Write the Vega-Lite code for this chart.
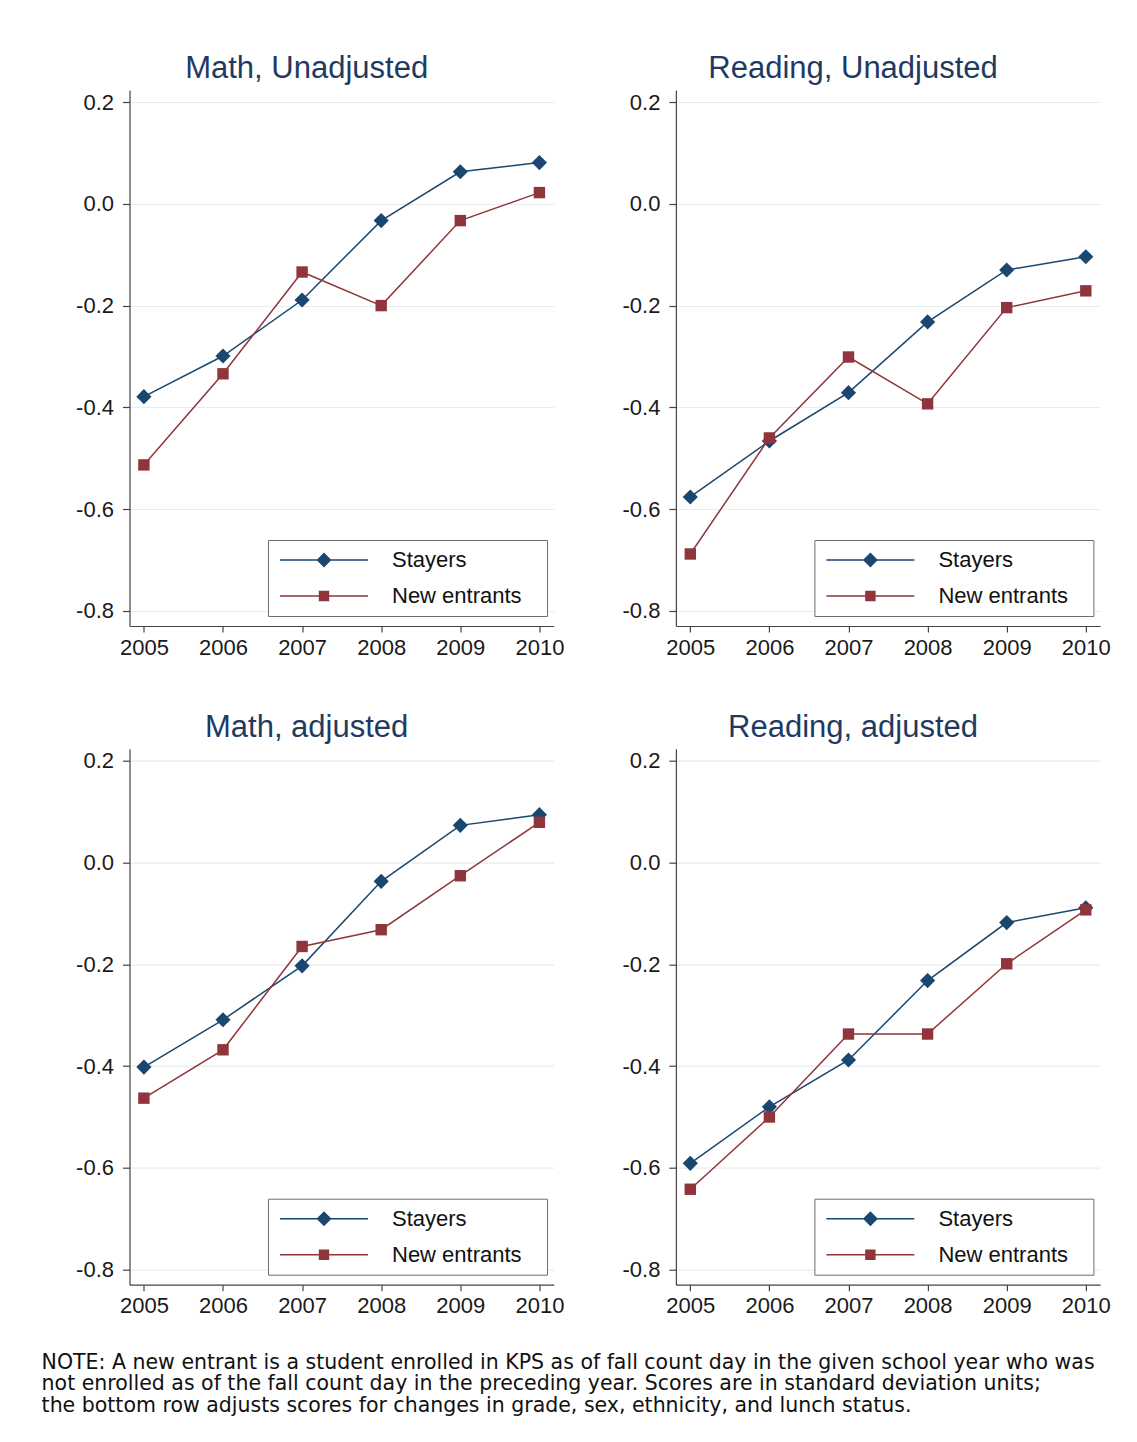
{
  "$schema": "https://vega.github.io/schema/vega-lite/v6.json",
  "autosize": {"type": "none"},
  "padding": {"left": 129.5, "top": 90, "right": 1007.5, "bottom": 1352},
  "background": "white",
  "datasets": {
    "scores": [
      {"panel": "Math, Unadjusted", "series": "Stayers", "year": 2005, "value": -0.379},
      {"panel": "Math, Unadjusted", "series": "Stayers", "year": 2006, "value": -0.299},
      {"panel": "Math, Unadjusted", "series": "Stayers", "year": 2007, "value": -0.189},
      {"panel": "Math, Unadjusted", "series": "Stayers", "year": 2008, "value": -0.033},
      {"panel": "Math, Unadjusted", "series": "Stayers", "year": 2009, "value": 0.063},
      {"panel": "Math, Unadjusted", "series": "Stayers", "year": 2010, "value": 0.081},
      {"panel": "Math, Unadjusted", "series": "New entrants", "year": 2005, "value": -0.513},
      {"panel": "Math, Unadjusted", "series": "New entrants", "year": 2006, "value": -0.334},
      {"panel": "Math, Unadjusted", "series": "New entrants", "year": 2007, "value": -0.134},
      {"panel": "Math, Unadjusted", "series": "New entrants", "year": 2008, "value": -0.200},
      {"panel": "Math, Unadjusted", "series": "New entrants", "year": 2009, "value": -0.033},
      {"panel": "Math, Unadjusted", "series": "New entrants", "year": 2010, "value": 0.022},
      {"panel": "Reading, Unadjusted", "series": "Stayers", "year": 2005, "value": -0.576},
      {"panel": "Reading, Unadjusted", "series": "Stayers", "year": 2006, "value": -0.466},
      {"panel": "Reading, Unadjusted", "series": "Stayers", "year": 2007, "value": -0.371},
      {"panel": "Reading, Unadjusted", "series": "Stayers", "year": 2008, "value": -0.232},
      {"panel": "Reading, Unadjusted", "series": "Stayers", "year": 2009, "value": -0.130},
      {"panel": "Reading, Unadjusted", "series": "Stayers", "year": 2010, "value": -0.104},
      {"panel": "Reading, Unadjusted", "series": "New entrants", "year": 2005, "value": -0.688},
      {"panel": "Reading, Unadjusted", "series": "New entrants", "year": 2006, "value": -0.460},
      {"panel": "Reading, Unadjusted", "series": "New entrants", "year": 2007, "value": -0.301},
      {"panel": "Reading, Unadjusted", "series": "New entrants", "year": 2008, "value": -0.393},
      {"panel": "Reading, Unadjusted", "series": "New entrants", "year": 2009, "value": -0.204},
      {"panel": "Reading, Unadjusted", "series": "New entrants", "year": 2010, "value": -0.171},
      {"panel": "Math, adjusted", "series": "Stayers", "year": 2005, "value": -0.402},
      {"panel": "Math, adjusted", "series": "Stayers", "year": 2006, "value": -0.309},
      {"panel": "Math, adjusted", "series": "Stayers", "year": 2007, "value": -0.203},
      {"panel": "Math, adjusted", "series": "Stayers", "year": 2008, "value": -0.037},
      {"panel": "Math, adjusted", "series": "Stayers", "year": 2009, "value": 0.073},
      {"panel": "Math, adjusted", "series": "Stayers", "year": 2010, "value": 0.094},
      {"panel": "Math, adjusted", "series": "New entrants", "year": 2005, "value": -0.463},
      {"panel": "Math, adjusted", "series": "New entrants", "year": 2006, "value": -0.368},
      {"panel": "Math, adjusted", "series": "New entrants", "year": 2007, "value": -0.165},
      {"panel": "Math, adjusted", "series": "New entrants", "year": 2008, "value": -0.132},
      {"panel": "Math, adjusted", "series": "New entrants", "year": 2009, "value": -0.026},
      {"panel": "Math, adjusted", "series": "New entrants", "year": 2010, "value": 0.079},
      {"panel": "Reading, adjusted", "series": "Stayers", "year": 2005, "value": -0.591},
      {"panel": "Reading, adjusted", "series": "Stayers", "year": 2006, "value": -0.480},
      {"panel": "Reading, adjusted", "series": "Stayers", "year": 2007, "value": -0.388},
      {"panel": "Reading, adjusted", "series": "Stayers", "year": 2008, "value": -0.232},
      {"panel": "Reading, adjusted", "series": "Stayers", "year": 2009, "value": -0.118},
      {"panel": "Reading, adjusted", "series": "Stayers", "year": 2010, "value": -0.089},
      {"panel": "Reading, adjusted", "series": "New entrants", "year": 2005, "value": -0.642},
      {"panel": "Reading, adjusted", "series": "New entrants", "year": 2006, "value": -0.500},
      {"panel": "Reading, adjusted", "series": "New entrants", "year": 2007, "value": -0.337},
      {"panel": "Reading, adjusted", "series": "New entrants", "year": 2008, "value": -0.337},
      {"panel": "Reading, adjusted", "series": "New entrants", "year": 2009, "value": -0.199},
      {"panel": "Reading, adjusted", "series": "New entrants", "year": 2010, "value": -0.093}
    ]
  },
  "title": {
    "text": [
      "NOTE: A new entrant is a student enrolled in KPS as of fall count day in the given school year who was",
      "not enrolled as of the fall count day in the preceding year. Scores are in standard deviation units;",
      "the bottom row adjusts scores for changes in grade, sex, ethnicity, and lunch status."
    ],
    "orient": "bottom",
    "anchor": "start",
    "frame": "bounds",
    "font": "DejaVu Sans",
    "fontSize": 20.5,
    "fontWeight": "normal",
    "color": "#111111",
    "lineHeight": 21.5,
    "offset": 36,
    "dx": -34
  },
  "columns": 2,
  "bounds": "flush",
  "spacing": {"row": 122.7, "column": 121.4},
  "concat": [
    {
      "width": 424.3, "height": 536,
      "title": {"text": "Math, Unadjusted"},
      "data": {"name": "scores"},
      "transform": [{"filter": "datum.panel === 'Math, Unadjusted'"}],
      "layer": [
        {
          "mark": {"type": "line", "strokeWidth": 1.5},
          "encoding": {
            "x": {"field": "year", "type": "quantitative", "scale": {"domain": [2004.818, 2010.182], "nice": false, "zero": false}, "axis": {"values": [2005, 2006, 2007, 2008, 2009, 2010]}},
            "y": {"field": "value", "type": "quantitative", "scale": {"domain": [-0.8295, 0.2236], "nice": false, "zero": false}, "axis": {"values": [-0.8, -0.6, -0.4, -0.2, 0, 0.2]}},
            "color": {"field": "series", "type": "nominal", "scale": {"domain": ["Stayers", "New entrants"], "range": ["#1a476f", "#90353b"]},
              "legend": {"title": null, "orient": "none", "legendX": 138.5, "legendY": 450, "direction": "vertical",
                "strokeColor": "#6e6e6e", "fillColor": "white", "padding": 9, "cornerRadius": 0,
                "labelFont": "Liberation Sans", "labelFontSize": 22, "labelColor": "#111111", "labelLimit": 0,
                "symbolSize": 400, "symbolOffset": 36, "labelOffset": 57, "rowPadding": 14, "symbolStrokeWidth": 1.4,
                "labelExpr": "datum.label + '\u2800'",
                "encode": {"symbols": {"update": {
                  "shape": {"signal": "datum.value === 'Stayers' ? 'M-4.4,0L-0.65,0L0,-0.65L0.65,0L4.4,0L0.65,0L0,0.65L-0.65,0Z' : 'M-4.4,0L-0.45,0L-0.45,-0.45L0.45,-0.45L0.45,0L4.4,0L0.45,0L0.45,0.45L-0.45,0.45L-0.45,0Z'"},
                  "fill": {"signal": "datum.value === 'Stayers' ? '#1a476f' : '#90353b'"},
                  "stroke": {"signal": "datum.value === 'Stayers' ? '#1a476f' : '#90353b'"},
                  "strokeWidth": {"value": 1.4},
                  "opacity": {"value": 1}, "fillOpacity": {"value": 1}, "strokeOpacity": {"value": 1}}}}}}
          }
        },
        {
          "transform": [{"filter": "datum.series === 'Stayers'"}],
          "mark": {"type": "point", "filled": true, "opacity": 1, "shape": "diamond", "size": 230, "color": "#1a476f"},
          "encoding": {"x": {"field": "year", "type": "quantitative"}, "y": {"field": "value", "type": "quantitative"}}
        },
        {
          "transform": [{"filter": "datum.series === 'New entrants'"}],
          "mark": {"type": "point", "filled": true, "opacity": 1, "shape": "square", "size": 130, "color": "#90353b"},
          "encoding": {"x": {"field": "year", "type": "quantitative"}, "y": {"field": "value", "type": "quantitative"}}
        }
      ]
    },
    {
      "width": 424.3, "height": 536,
      "title": {"text": "Reading, Unadjusted"},
      "data": {"name": "scores"},
      "transform": [{"filter": "datum.panel === 'Reading, Unadjusted'"}],
      "layer": [
        {
          "mark": {"type": "line", "strokeWidth": 1.5},
          "encoding": {
            "x": {"field": "year", "type": "quantitative", "scale": {"domain": [2004.818, 2010.182], "nice": false, "zero": false}, "axis": {"values": [2005, 2006, 2007, 2008, 2009, 2010]}},
            "y": {"field": "value", "type": "quantitative", "scale": {"domain": [-0.8295, 0.2236], "nice": false, "zero": false}, "axis": {"values": [-0.8, -0.6, -0.4, -0.2, 0, 0.2]}},
            "color": {"field": "series", "type": "nominal", "scale": {"domain": ["Stayers", "New entrants"], "range": ["#1a476f", "#90353b"]},
              "legend": {"title": null, "orient": "none", "legendX": 138.5, "legendY": 450, "direction": "vertical",
                "strokeColor": "#6e6e6e", "fillColor": "white", "padding": 9, "cornerRadius": 0,
                "labelFont": "Liberation Sans", "labelFontSize": 22, "labelColor": "#111111", "labelLimit": 0,
                "symbolSize": 400, "symbolOffset": 36, "labelOffset": 57, "rowPadding": 14, "symbolStrokeWidth": 1.4,
                "labelExpr": "datum.label + '\u2800'",
                "encode": {"symbols": {"update": {
                  "shape": {"signal": "datum.value === 'Stayers' ? 'M-4.4,0L-0.65,0L0,-0.65L0.65,0L4.4,0L0.65,0L0,0.65L-0.65,0Z' : 'M-4.4,0L-0.45,0L-0.45,-0.45L0.45,-0.45L0.45,0L4.4,0L0.45,0L0.45,0.45L-0.45,0.45L-0.45,0Z'"},
                  "fill": {"signal": "datum.value === 'Stayers' ? '#1a476f' : '#90353b'"},
                  "stroke": {"signal": "datum.value === 'Stayers' ? '#1a476f' : '#90353b'"},
                  "strokeWidth": {"value": 1.4},
                  "opacity": {"value": 1}, "fillOpacity": {"value": 1}, "strokeOpacity": {"value": 1}}}}}}
          }
        },
        {
          "transform": [{"filter": "datum.series === 'Stayers'"}],
          "mark": {"type": "point", "filled": true, "opacity": 1, "shape": "diamond", "size": 230, "color": "#1a476f"},
          "encoding": {"x": {"field": "year", "type": "quantitative"}, "y": {"field": "value", "type": "quantitative"}}
        },
        {
          "transform": [{"filter": "datum.series === 'New entrants'"}],
          "mark": {"type": "point", "filled": true, "opacity": 1, "shape": "square", "size": 130, "color": "#90353b"},
          "encoding": {"x": {"field": "year", "type": "quantitative"}, "y": {"field": "value", "type": "quantitative"}}
        }
      ]
    },
    {
      "width": 424.3, "height": 536,
      "title": {"text": "Math, adjusted"},
      "data": {"name": "scores"},
      "transform": [{"filter": "datum.panel === 'Math, adjusted'"}],
      "layer": [
        {
          "mark": {"type": "line", "strokeWidth": 1.5},
          "encoding": {
            "x": {"field": "year", "type": "quantitative", "scale": {"domain": [2004.818, 2010.182], "nice": false, "zero": false}, "axis": {"values": [2005, 2006, 2007, 2008, 2009, 2010]}},
            "y": {"field": "value", "type": "quantitative", "scale": {"domain": [-0.8295, 0.2236], "nice": false, "zero": false}, "axis": {"values": [-0.8, -0.6, -0.4, -0.2, 0, 0.2]}},
            "color": {"field": "series", "type": "nominal", "scale": {"domain": ["Stayers", "New entrants"], "range": ["#1a476f", "#90353b"]},
              "legend": {"title": null, "orient": "none", "legendX": 138.5, "legendY": 450, "direction": "vertical",
                "strokeColor": "#6e6e6e", "fillColor": "white", "padding": 9, "cornerRadius": 0,
                "labelFont": "Liberation Sans", "labelFontSize": 22, "labelColor": "#111111", "labelLimit": 0,
                "symbolSize": 400, "symbolOffset": 36, "labelOffset": 57, "rowPadding": 14, "symbolStrokeWidth": 1.4,
                "labelExpr": "datum.label + '\u2800'",
                "encode": {"symbols": {"update": {
                  "shape": {"signal": "datum.value === 'Stayers' ? 'M-4.4,0L-0.65,0L0,-0.65L0.65,0L4.4,0L0.65,0L0,0.65L-0.65,0Z' : 'M-4.4,0L-0.45,0L-0.45,-0.45L0.45,-0.45L0.45,0L4.4,0L0.45,0L0.45,0.45L-0.45,0.45L-0.45,0Z'"},
                  "fill": {"signal": "datum.value === 'Stayers' ? '#1a476f' : '#90353b'"},
                  "stroke": {"signal": "datum.value === 'Stayers' ? '#1a476f' : '#90353b'"},
                  "strokeWidth": {"value": 1.4},
                  "opacity": {"value": 1}, "fillOpacity": {"value": 1}, "strokeOpacity": {"value": 1}}}}}}
          }
        },
        {
          "transform": [{"filter": "datum.series === 'Stayers'"}],
          "mark": {"type": "point", "filled": true, "opacity": 1, "shape": "diamond", "size": 230, "color": "#1a476f"},
          "encoding": {"x": {"field": "year", "type": "quantitative"}, "y": {"field": "value", "type": "quantitative"}}
        },
        {
          "transform": [{"filter": "datum.series === 'New entrants'"}],
          "mark": {"type": "point", "filled": true, "opacity": 1, "shape": "square", "size": 130, "color": "#90353b"},
          "encoding": {"x": {"field": "year", "type": "quantitative"}, "y": {"field": "value", "type": "quantitative"}}
        }
      ]
    },
    {
      "width": 424.3, "height": 536,
      "title": {"text": "Reading, adjusted"},
      "data": {"name": "scores"},
      "transform": [{"filter": "datum.panel === 'Reading, adjusted'"}],
      "layer": [
        {
          "mark": {"type": "line", "strokeWidth": 1.5},
          "encoding": {
            "x": {"field": "year", "type": "quantitative", "scale": {"domain": [2004.818, 2010.182], "nice": false, "zero": false}, "axis": {"values": [2005, 2006, 2007, 2008, 2009, 2010]}},
            "y": {"field": "value", "type": "quantitative", "scale": {"domain": [-0.8295, 0.2236], "nice": false, "zero": false}, "axis": {"values": [-0.8, -0.6, -0.4, -0.2, 0, 0.2]}},
            "color": {"field": "series", "type": "nominal", "scale": {"domain": ["Stayers", "New entrants"], "range": ["#1a476f", "#90353b"]},
              "legend": {"title": null, "orient": "none", "legendX": 138.5, "legendY": 450, "direction": "vertical",
                "strokeColor": "#6e6e6e", "fillColor": "white", "padding": 9, "cornerRadius": 0,
                "labelFont": "Liberation Sans", "labelFontSize": 22, "labelColor": "#111111", "labelLimit": 0,
                "symbolSize": 400, "symbolOffset": 36, "labelOffset": 57, "rowPadding": 14, "symbolStrokeWidth": 1.4,
                "labelExpr": "datum.label + '\u2800'",
                "encode": {"symbols": {"update": {
                  "shape": {"signal": "datum.value === 'Stayers' ? 'M-4.4,0L-0.65,0L0,-0.65L0.65,0L4.4,0L0.65,0L0,0.65L-0.65,0Z' : 'M-4.4,0L-0.45,0L-0.45,-0.45L0.45,-0.45L0.45,0L4.4,0L0.45,0L0.45,0.45L-0.45,0.45L-0.45,0Z'"},
                  "fill": {"signal": "datum.value === 'Stayers' ? '#1a476f' : '#90353b'"},
                  "stroke": {"signal": "datum.value === 'Stayers' ? '#1a476f' : '#90353b'"},
                  "strokeWidth": {"value": 1.4},
                  "opacity": {"value": 1}, "fillOpacity": {"value": 1}, "strokeOpacity": {"value": 1}}}}}}
          }
        },
        {
          "transform": [{"filter": "datum.series === 'Stayers'"}],
          "mark": {"type": "point", "filled": true, "opacity": 1, "shape": "diamond", "size": 230, "color": "#1a476f"},
          "encoding": {"x": {"field": "year", "type": "quantitative"}, "y": {"field": "value", "type": "quantitative"}}
        },
        {
          "transform": [{"filter": "datum.series === 'New entrants'"}],
          "mark": {"type": "point", "filled": true, "opacity": 1, "shape": "square", "size": 130, "color": "#90353b"},
          "encoding": {"x": {"field": "year", "type": "quantitative"}, "y": {"field": "value", "type": "quantitative"}}
        }
      ]
    }
  ],
  "resolve": {
    "scale": {"color": "independent"},
    "legend": {"color": "independent"}
  },
  "config": {
    "view": {"stroke": null},
    "title": {"font": "Liberation Sans", "fontSize": 31, "fontWeight": "normal", "color": "#1e3a62", "anchor": "middle", "frame": "group", "dx": -35, "offset": 5},
    "axis": {"labelFont": "Liberation Sans", "labelFontSize": 22, "labelColor": "#1a1a1a", "domainColor": "#444444", "tickColor": "#444444", "domainWidth": 1.2, "tickWidth": 1.2, "title": null},
    "axisY": {"labelExpr": "replace(format(datum.value, '.1f'), '\u2212', '-')", "tickSize": 7, "labelPadding": 9, "grid": true, "gridColor": "#e6eef0", "gridWidth": 1.2},
    "axisX": {"format": "d", "tickSize": 6, "labelPadding": 5, "grid": false, "labelAngle": 0, "labelFlush": false}
  }
}
